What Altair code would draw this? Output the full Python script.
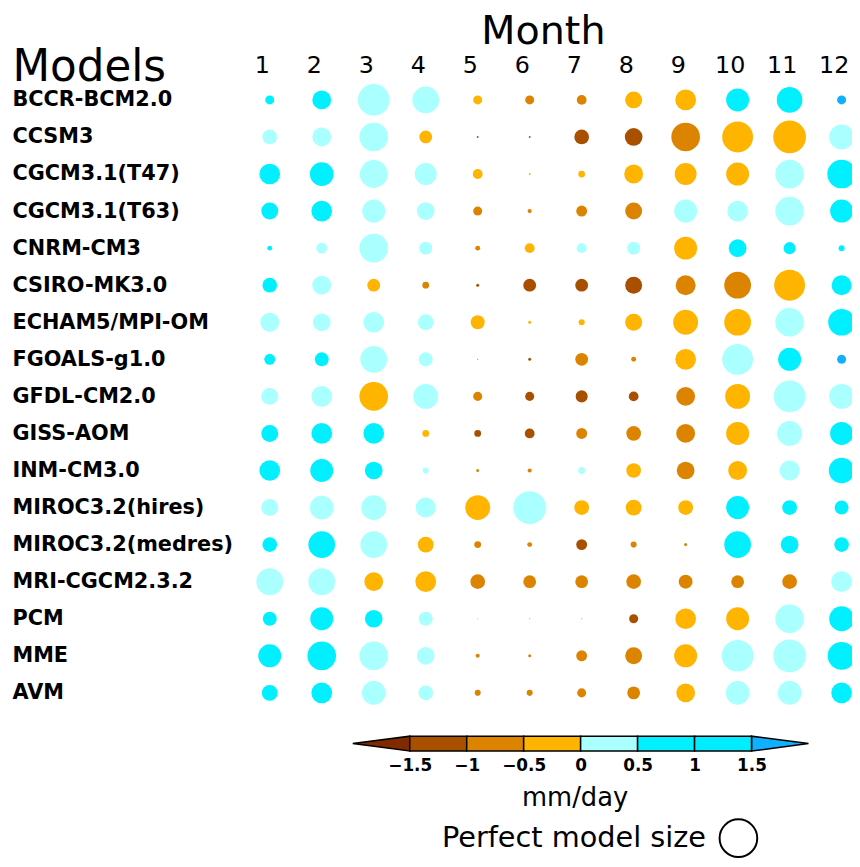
import altair as alt
import pandas as pd

FONT = "DejaVu Sans"

models = [
    "BCCR-BCM2.0", "CCSM3", "CGCM3.1(T47)", "CGCM3.1(T63)", "CNRM-CM3",
    "CSIRO-MK3.0", "ECHAM5/MPI-OM", "FGOALS-g1.0", "GFDL-CM2.0", "GISS-AOM",
    "INM-CM3.0", "MIROC3.2(hires)", "MIROC3.2(medres)", "MRI-CGCM2.3.2", "PCM",
    "MME", "AVM",
]
months = list(range(1, 13))

# precipitation bias (mm/day), one row per model, Jan..Dec
bias_rows = [
    [0.75, 0.75, 0.25, 0.25, -0.25, -0.75, -0.75, -0.25, -0.25, 0.75, 0.75, 1.75],
    [0.25, 0.25, 0.25, -0.25, -1.25, -1.25, -1.25, -1.25, -0.75, -0.25, -0.25, 0.25],
    [0.75, 0.75, 0.25, 0.25, -0.25, -0.25, -0.25, -0.25, -0.25, -0.25, 0.25, 0.75],
    [0.75, 0.75, 0.25, 0.25, -0.75, -0.75, -0.75, -0.75, 0.25, 0.25, 0.25, 0.75],
    [0.75, 0.25, 0.25, 0.25, -0.75, -0.25, 0.25, 0.25, -0.25, 0.75, 0.75, 0.75],
    [0.75, 0.25, -0.25, -0.75, -1.25, -1.25, -1.25, -1.25, -0.75, -0.75, -0.25, 0.75],
    [0.25, 0.25, 0.25, 0.25, -0.25, -0.25, -0.25, -0.25, -0.25, -0.25, 0.25, 0.75],
    [0.75, 0.75, 0.25, 0.25, -0.75, -1.25, -0.75, -0.75, -0.25, 0.25, 0.75, 1.75],
    [0.25, 0.25, -0.25, 0.25, -0.75, -1.25, -1.25, -1.25, -0.75, -0.25, 0.25, 0.25],
    [0.75, 0.75, 0.75, -0.25, -1.25, -1.25, -0.75, -0.75, -0.75, -0.25, 0.25, 0.75],
    [0.75, 0.75, 0.75, 0.25, -0.75, -0.75, 0.25, -0.25, -0.75, -0.25, 0.25, 0.75],
    [0.25, 0.25, 0.25, 0.25, -0.25, 0.25, -0.25, -0.25, -0.25, 0.75, 0.75, 0.75],
    [0.75, 0.75, 0.25, -0.25, -0.75, -0.75, -1.25, -0.75, -0.75, 0.75, 0.75, 0.75],
    [0.25, 0.25, -0.25, -0.25, -0.75, -0.75, -0.75, -0.75, -0.75, -0.75, -0.75, 0.25],
    [0.75, 0.75, 0.75, 0.25, -0.25, -0.75, -0.75, -1.25, -0.25, -0.25, 0.25, 0.75],
    [0.75, 0.75, 0.25, 0.25, -0.75, -0.75, -0.75, -0.75, -0.25, 0.25, 0.25, 0.75],
    [0.75, 0.75, 0.25, 0.25, -0.75, -0.75, -0.75, -0.75, -0.25, 0.25, 0.25, 0.75],
]

# relative amplitude (perfect model = 1.0), one row per model, Jan..Dec
amp_rows = [
    [0.24, 0.50, 0.84, 0.71, 0.24, 0.24, 0.26, 0.45, 0.55, 0.61, 0.68, 0.24],
    [0.39, 0.50, 0.76, 0.34, 0.05, 0.05, 0.39, 0.47, 0.76, 0.82, 0.87, 0.66],
    [0.55, 0.63, 0.74, 0.58, 0.26, 0.05, 0.18, 0.50, 0.58, 0.61, 0.76, 0.76],
    [0.45, 0.55, 0.61, 0.47, 0.24, 0.11, 0.29, 0.45, 0.61, 0.55, 0.76, 0.61],
    [0.13, 0.29, 0.76, 0.34, 0.13, 0.26, 0.26, 0.34, 0.61, 0.47, 0.32, 0.16],
    [0.39, 0.50, 0.34, 0.18, 0.08, 0.34, 0.34, 0.45, 0.53, 0.71, 0.82, 0.53],
    [0.50, 0.47, 0.55, 0.42, 0.37, 0.08, 0.16, 0.45, 0.66, 0.71, 0.76, 0.71],
    [0.29, 0.37, 0.71, 0.37, 0.03, 0.08, 0.34, 0.13, 0.55, 0.82, 0.61, 0.24],
    [0.45, 0.55, 0.76, 0.66, 0.24, 0.24, 0.32, 0.26, 0.50, 0.66, 0.84, 0.66],
    [0.45, 0.55, 0.55, 0.18, 0.18, 0.26, 0.29, 0.39, 0.50, 0.61, 0.66, 0.61],
    [0.55, 0.61, 0.47, 0.16, 0.08, 0.11, 0.18, 0.39, 0.47, 0.50, 0.53, 0.68],
    [0.45, 0.63, 0.66, 0.53, 0.66, 0.87, 0.39, 0.42, 0.39, 0.61, 0.39, 0.37],
    [0.39, 0.71, 0.71, 0.42, 0.18, 0.13, 0.29, 0.16, 0.08, 0.71, 0.47, 0.39],
    [0.71, 0.71, 0.50, 0.55, 0.39, 0.34, 0.34, 0.39, 0.37, 0.34, 0.39, 0.55],
    [0.37, 0.61, 0.47, 0.37, 0.03, 0.03, 0.03, 0.24, 0.55, 0.61, 0.76, 0.66],
    [0.61, 0.76, 0.76, 0.47, 0.11, 0.08, 0.29, 0.45, 0.61, 0.84, 0.87, 0.74],
    [0.42, 0.55, 0.63, 0.39, 0.16, 0.16, 0.24, 0.34, 0.50, 0.63, 0.63, 0.55],
]

# colour bar definition
thresholds = [-1.5, -1.0, -0.5, 0.0, 0.5, 1.0, 1.5]
palette = ["#7f2a00", "#a85000", "#dc8400", "#ffb400",
           "#aaffff", "#00f0ff", "#00ecff", "#10b0ff"]
bar_ends = [-2.0, 2.0]

# "perfect model" key (amplitude 1.0), placed on the colour-bar value axis
perfect_label = ["Perfect model size"]
perfect_amp = [1.0]
key_label_at = [1.10]
key_circle_at = [1.385]

records = []
for model, brow, arow in zip(models, bias_rows, amp_rows):
    for m, b, a in zip(months, brow, arow):
        records.append({"model": model, "month": m, "bias": b, "amp": a})
df = pd.DataFrame(records)

color_scale = alt.Scale(type="threshold", domain=thresholds, range=palette)
size_scale = alt.Scale(type="pow", exponent=2, domain=[0, 1], range=[0, 1444])

top = alt.Chart(df).mark_circle(opacity=1, clip=True).encode(
    x=alt.X(
        "month:Q",
        scale=alt.Scale(domain=[0.5, 12.2], nice=False, zero=False),
        axis=alt.Axis(
            orient="top", values=months, format="d", grid=False, domain=False,
            ticks=False, tickSize=0, labelFont=FONT, labelFontSize=24,
            labelColor="black", labelPadding=9, labelBaseline="alphabetic",
            labelOffset=-8, labelFlush=False, labelOverlap=False,
            title="Month", titleFont=FONT, titleFontSize=40,
            titleFontWeight="normal", titleColor="black",
            titleBaseline="alphabetic", titleAlign="center",
            titleX=302, titleY=-38,
        ),
    ),
    y=alt.Y(
        "model:N", sort=models,
        scale=alt.Scale(type="point", padding=0.5),
        axis=alt.Axis(
            orient="left", grid=False, domain=False, ticks=False, tickSize=0,
            labelFont=FONT, labelFontSize=21, labelFontWeight="bold",
            labelColor="black", labelAlign="left", labelBaseline="middle",
            labelPadding=234, labelLimit=400,
            title="Models", titleFont=FONT, titleFontSize=44,
            titleFontWeight="normal", titleColor="black", titleAngle=0,
            titleAlign="left", titleBaseline="alphabetic",
            titleX=-234, titleY=-1,
        ),
    ),
    color=alt.Color("bias:Q", scale=color_scale, legend=None),
    size=alt.Size("amp:Q", scale=size_scale, legend=None),
).properties(width=614, height=636)

# colour bar data
box_lo = thresholds[:-1]
box_hi = thresholds[1:]
boxes = pd.DataFrame({
    "lo": box_lo, "hi": box_hi,
    "bias": [(a + b) / 2 for a, b in zip(box_lo, box_hi)],
    "yb": 0.0, "yt": 1.0,
})
tri = pd.DataFrame({
    "x": [bar_ends[0], thresholds[0], thresholds[-1], bar_ends[1]],
    "yb": [0.5, 0.0, 0.0, 0.5],
    "yt": [0.5, 1.0, 1.0, 0.5],
    "bias": [-1.75, -1.75, 1.75, 1.75],
    "side": ["low", "low", "high", "high"],
})

xcb = alt.Scale(domain=[-2.957, 2.382], nice=False, zero=False)
ycb = alt.Scale(domain=[0, 2.4], nice=False, zero=False)

box_layer = alt.Chart(boxes).mark_rect(stroke="black", strokeWidth=1.5).encode(
    x=alt.X(
        "lo:Q", scale=xcb,
        axis=alt.Axis(
            values=thresholds, format=".1~f", grid=False, domain=False,
            ticks=False, tickSize=0, labelFont=FONT, labelFontSize=17,
            labelFontWeight="bold", labelColor="black", labelPadding=20,
            labelBaseline="alphabetic", labelFlush=False, labelOverlap=False,
            title="mm/day", titleFont=FONT, titleFontSize=26,
            titleFontWeight="normal", titleColor="black",
            titleBaseline="alphabetic", titleX=334, titleY=55,
        ),
    ),
    x2="hi:Q",
    y=alt.Y("yb:Q", scale=ycb, axis=None),
    y2="yt:Q",
    color=alt.Color("bias:Q", scale=color_scale, legend=None),
)

tri_layer = alt.Chart(tri).mark_area(stroke="black", strokeWidth=1.5).encode(
    x=alt.X("x:Q", scale=xcb),
    y=alt.Y("yb:Q", scale=ycb, axis=None),
    y2="yt:Q",
    color=alt.Color("bias:Q", scale=color_scale, legend=None),
    detail="side:N",
)

bottom = alt.layer(tri_layer, box_layer).properties(width=614, height=36)

# perfect-model key row
key_df = pd.DataFrame({
    "label": perfect_label, "amp": perfect_amp,
    "lx": key_label_at, "cx": key_circle_at, "ky": [0.741],
})
kx = alt.Scale(domain=[-2.957, 2.382], nice=False, zero=False)
ky = alt.Scale(domain=[0, 1], nice=False, zero=False)

key_text = alt.Chart(key_df).mark_text(
    font=FONT, fontSize=29, align="right", baseline="middle", color="black"
).encode(
    x=alt.X("lx:Q", scale=kx, axis=None),
    y=alt.Y("ky:Q", scale=ky, axis=None),
    text="label:N",
)
key_circle = alt.Chart(key_df).mark_point(
    shape="circle", filled=False, stroke="black", strokeWidth=2, opacity=1
).encode(
    x=alt.X("cx:Q", scale=kx, axis=None),
    y=alt.Y("ky:Q", scale=ky, axis=None),
    size=alt.Size("amp:Q", scale=size_scale, legend=None),
)
key = alt.layer(key_text, key_circle).properties(width=614, height=27)

chart = alt.vconcat(top, bottom, key, spacing=4).properties(
    padding={"left": 4, "top": 0, "right": 0, "bottom": 0}
).configure_view(stroke=None)

chart.save("out.html", embed_options={"renderer": "svg", "actions": False})
